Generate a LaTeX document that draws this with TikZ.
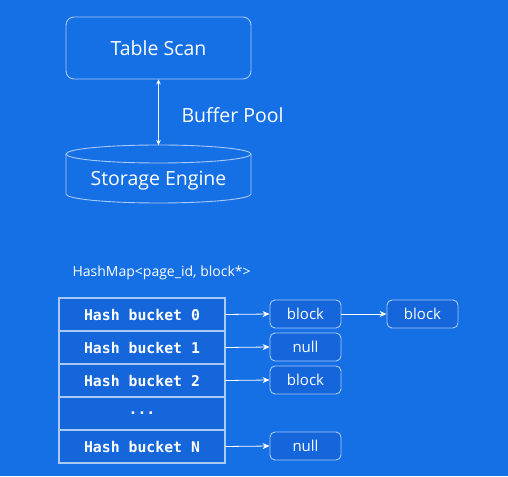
\documentclass[tikz,border=0pt]{standalone}
\usepackage{fontspec}
\setmainfont{Open Sans}
\setmonofont{DejaVu Sans Mono}
\usepackage{xcolor}
\usetikzlibrary{arrows.meta,positioning}

\definecolor{bgblue}{HTML}{1570E6}
\definecolor{cellblue}{HTML}{1466DA}
\definecolor{edgeblue}{HTML}{A9C9F6}

\tikzset{
  bigbox/.style={draw=edgeblue, line width=0.9pt, rounded corners=8pt, minimum width=185pt, minimum height=62pt, text=white, font=\fontsize{19.5}{23}\selectfont},
  bucket/.style={draw=edgeblue, fill=cellblue, line width=1.3pt, minimum width=166pt, minimum height=33pt, text=white, font=\ttfamily\bfseries\fontsize{14.8}{17}\selectfont},
  blockbox/.style={draw=edgeblue, fill=cellblue, line width=0.9pt, rounded corners=5pt, minimum width=71pt, minimum height=28pt, text=white, font=\fontsize{15}{18}\selectfont},
  link/.style={white, line width=0.8pt, -{Stealth[length=7pt,width=6pt]}}
}

\begin{document}
\begin{tikzpicture}[x=1pt, y=1pt]
% Background
\fill[bgblue] (0,0) rectangle (508,476);
\useasboundingbox (0,0) rectangle (508,476);

% Table Scan
\node[bigbox] (scan) at (158.5,428) {Table Scan};

% Storage Engine cylinder
\draw[edgeblue, line width=0.9pt] (158.5,322) ellipse (92.5pt and 9pt);
\draw[edgeblue, line width=0.9pt] (66,322) -- (66,282) arc[start angle=180, end angle=360, x radius=92.5pt, y radius=9pt] -- (251,322);
\node[text=white, font=\fontsize{19.5}{23}\selectfont] (store) at (158.5,295) {Storage Engine};
\coordinate (storetop) at (158.5,331);

% Buffer Pool link
\draw[white, line width=0.7pt, {Stealth[length=5pt,width=4.5pt]}-{Stealth[length=5pt,width=4.5pt]}] (scan.south) -- (storetop);
\node[text=white, anchor=west, font=\fontsize{19.5}{23}\selectfont] (pool) at (178,361) {Buffer Pool};

% Hash map title
\node[text=white, anchor=west, font=\fontsize{14}{17}\selectfont] (title) at (69,203) {HashMap<page\_id, block*>};

% Hash buckets
\node[bucket] (b0) at (142,161.5) {Hash bucket 0};
\node[bucket] (b1) at (142,128.5) {Hash bucket 1};
\node[bucket] (b2) at (142,95.5) {Hash bucket 2};
\node[bucket] (bd) at (142,62.5) {...};
\node[bucket] (bN) at (142,29.5) {Hash bucket N};

% Blocks
\node[blockbox] (k0) at (305.5,162) {block};
\node[blockbox] (k0b) at (422.5,162) {block};
\node[blockbox] (k1) at (305.5,129) {null};
\node[blockbox] (k2) at (305.5,96) {block};
\node[blockbox] (kN) at (305.5,30) {null};

% Pointers
\draw[link] (b0.east) -- (k0.west);
\draw[link] (k0.east) -- (k0b.west);
\draw[link] (b1.east) -- (k1.west);
\draw[link] (b2.east) -- (k2.west);
\draw[link] (bN.east) -- (kN.west);

\end{tikzpicture}
\end{document}
